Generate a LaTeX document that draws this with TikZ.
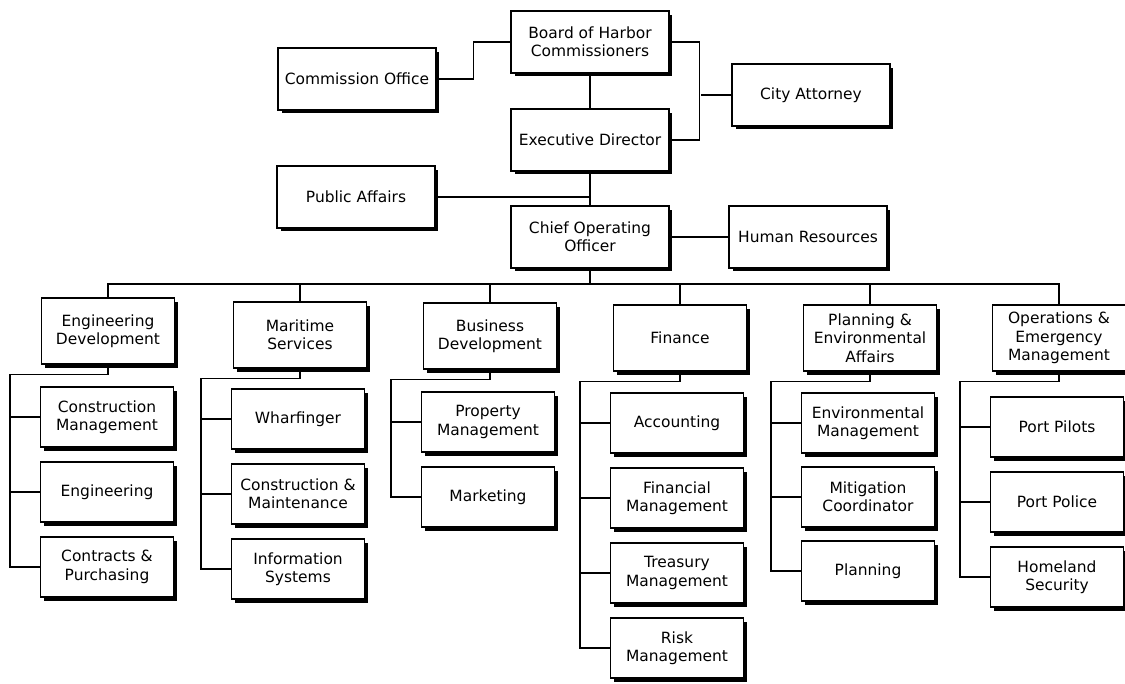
\documentclass[tikz,border=0pt]{standalone}
\usepackage{fontspec}
\setmainfont{DejaVu Sans}
\usetikzlibrary{shadows}

\begin{document}
\begin{tikzpicture}[x=0.02cm,y=-0.02cm,
	unit/.style={draw,fill=white,line width=0.8pt,align=center,inner sep=2pt,
		font=\fontsize{8.8}{10.5}\selectfont,
		drop shadow={shadow xshift=0.07cm,shadow yshift=-0.07cm,fill=black,opacity=1}},
	headbox/.style={unit,minimum width=3.16cm,minimum height=1.24cm},
	deptbox/.style={unit,minimum width=2.66cm,minimum height=1.32cm},
	subbox/.style={unit,minimum width=2.66cm,minimum height=1.2cm},
	every path/.style={line width=0.8pt}]
		\useasboundingbox (0,0) rectangle (1125,683);
		%put the head office on top
		\node[headbox] (board) at (590,42) {Board of Harbor\\Commissioners};
		\node[headbox] (comm) at (357,79) {Commission Office};
		\node[headbox] (city) at (811,95) {City Attorney};
		\node[headbox] (exec) at (590,140) {Executive Director};
		\node[headbox] (pub) at (356,197) {Public Affairs};
		\node[headbox] (coo) at (590,237) {Chief Operating\\Officer};
		\node[headbox] (hr) at (808,237) {Human Resources};
		\draw (comm.east) -- ++(37,0) |- (board.west);
		\draw (board.east) -- ++(30,0) |- (exec.east);
		\draw (city.west) -- ++(-30,0);
		\draw (board) -- (exec);
		\draw (exec) -- (coo);
		\draw (pub.east) -- (pub.east -| exec.south);
		\draw (coo.east) -- (hr.west);
		%put the departments on the bus
		\node[deptbox] (ed) at (108,331) {Engineering\\Development};
		\node[deptbox] (ms) at (300,335) {Maritime\\Services};
		\node[deptbox] (bd) at (490,336) {Business\\Development};
		\node[deptbox] (fin) at (680,338) {Finance};
		\node[deptbox] (pea) at (870,338) {Planning \&\\Environmental\\Affairs};
		\node[deptbox] (oem) at (1059,338) {Operations \&\\Emergency\\Management};
		\coordinate (bus) at (590,284);
		\draw (coo.south) -- (bus);
		\foreach \d in {ed,ms,bd,fin,pea,oem}{
			\draw (\d.north) |- (bus);
		}
		%put the sections under each department
		\foreach \t[count=\i] in {{Construction\\Management},Engineering,{Contracts \&\\Purchasing}}{
			\node[subbox] (ed\i) at (107,342+75*\i) {\t};
		}
		\foreach \t[count=\i] in {Wharfinger,{Construction \&\\Maintenance},{Information\\Systems}}{
			\node[subbox] (ms\i) at (298,344+75*\i) {\t};
		}
		\foreach \t[count=\i] in {{Property\\Management},Marketing}{
			\node[subbox] (bd\i) at (488,347+75*\i) {\t};
		}
		\foreach \t[count=\i] in {Accounting,{Financial\\Management},{Treasury\\Management},{Risk\\Management}}{
			\node[subbox] (fin\i) at (677,348+75*\i) {\t};
		}
		\foreach \t[count=\i] in {{Environmental\\Management},{Mitigation\\Coordinator},Planning}{
			\node[subbox] (pea\i) at (868,349+74*\i) {\t};
		}
		\foreach \t[count=\i] in {Port Pilots,Port Police,{Homeland\\Security}}{
			\node[subbox] (oem\i) at (1057,352+75*\i) {\t};
		}
		\draw (ed.south) -- ++(0,10) -| ([xshift=-0.6cm]ed3.west) -- (ed3.west);
		\draw (ms.south) -- ++(0,10) -| ([xshift=-0.6cm]ms3.west) -- (ms3.west);
		\draw (bd.south) -- ++(0,10) -| ([xshift=-0.6cm]bd2.west) -- (bd2.west);
		\draw (fin.south) -- ++(0,10) -| ([xshift=-0.6cm]fin4.west) -- (fin4.west);
		\draw (pea.south) -- ++(0,10) -| ([xshift=-0.6cm]pea3.west) -- (pea3.west);
		\draw (oem.south) -- ++(0,10) -| ([xshift=-0.6cm]oem3.west) -- (oem3.west);
		\foreach \c in {ed1,ed2,ms1,ms2,bd1,fin1,fin2,fin3,pea1,pea2,oem1,oem2}{
			\draw (\c.west) -- ++(-30,0);
		}
\end{tikzpicture}
\end{document}
